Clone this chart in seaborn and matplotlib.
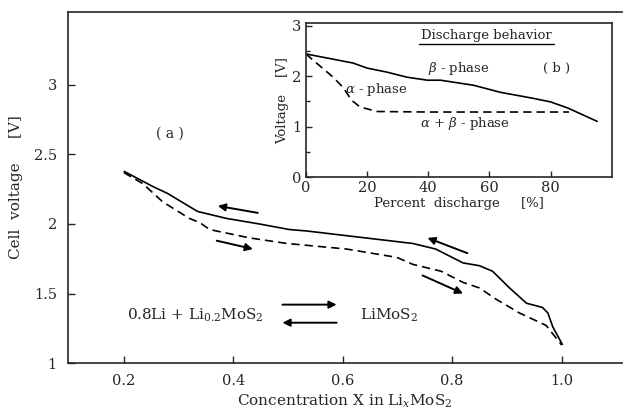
import numpy as np
import pandas as pd
import matplotlib
matplotlib.use("Agg")
import matplotlib.pyplot as plt
import seaborn as sns

# main panel (a): charge (solid) and discharge (dashed) curves
charge_x = [0.20, 0.253, 0.28, 0.335, 0.388, 0.448, 0.503, 0.534, 0.62, 0.728, 0.77,
            0.82, 0.85, 0.874, 0.905, 0.936, 0.965, 0.975, 0.984, 1.002]
charge_v = [2.38, 2.27, 2.22, 2.09, 2.04, 2.00, 1.96, 1.95, 1.91, 1.86, 1.82,
            1.72, 1.70, 1.66, 1.54, 1.43, 1.40, 1.36, 1.26, 1.13]
discharge_x = [0.20, 0.235, 0.271, 0.32, 0.339, 0.357, 0.43, 0.498, 0.607, 0.699,
               0.728, 0.78, 0.82, 0.85, 0.88, 0.923, 0.972, 1.0]
discharge_v = [2.37, 2.29, 2.16, 2.04, 2.01, 1.96, 1.90, 1.86, 1.82, 1.76,
               1.71, 1.66, 1.58, 1.54, 1.46, 1.36, 1.27, 1.13]

# inset panel (b): discharge behaviour
beta_pct = [0, 15.4, 20, 26.5, 33, 39.7, 44, 54.8, 63.6, 74.4, 80, 85.6, 95.4]
beta_v = [2.44, 2.26, 2.16, 2.08, 1.98, 1.92, 1.92, 1.82, 1.68, 1.56, 1.49, 1.37, 1.10]
alpha_pct = [0, 2.3, 8.9, 12.1, 15, 17.7, 23.3, 40, 60, 86]
alpha_v = [2.44, 2.32, 1.98, 1.78, 1.52, 1.39, 1.30, 1.29, 1.29, 1.29]

main_df = pd.concat([
    pd.DataFrame({"x": charge_x, "v": charge_v, "run": "charge"}),
    pd.DataFrame({"x": discharge_x, "v": discharge_v, "run": "discharge"}),
])
inset_df = pd.concat([
    pd.DataFrame({"p": beta_pct, "v": beta_v, "run": "beta"}),
    pd.DataFrame({"p": alpha_pct, "v": alpha_v, "run": "alpha"}),
])

sns.set_style("ticks")
plt.rcParams["font.family"] = ["DejaVu Serif"]
plt.rcParams["mathtext.fontset"] = "dejavuserif"
plt.rcParams["xtick.direction"] = "in"
plt.rcParams["ytick.direction"] = "in"

fig = plt.figure(figsize=(6.23, 4.13), dpi=100)
ax = fig.add_axes([0.109, 0.121, 0.889, 0.850])

sns.lineplot(data=main_df, x="x", y="v", hue="run", style="run",
             palette=["black", "black"], dashes=[(1, 0), (5, 3)],
             linewidth=1.2, sort=False, legend=False, ax=ax)
ax.set_xlim(0.098, 1.11)
ax.set_ylim(1.0, 3.525)
ax.set_xticks([0.2, 0.4, 0.6, 0.8, 1.0])
ax.set_xticklabels(["0.2", "0.4", "0.6", "0.8", "1.0"])
ax.set_yticks([1, 1.5, 2, 2.5, 3])
ax.set_yticklabels(["1", "1.5", "2", "2.5", "3"])
ax.tick_params(labelsize=10.5, length=5, width=1, pad=8)
ax.spines["right"].set_visible(False)
for s in ["left", "bottom", "top"]:
    ax.spines[s].set_linewidth(1.2)
ax.set_xlabel("Concentration X in Li$_x$MoS$_2$", fontsize=11, labelpad=3)
ax.set_ylabel("Cell  voltage     [V]", fontsize=11, labelpad=8)

ax.text(0.284, 2.65, "( a )", fontsize=10, ha="center", va="center")
ax.text(0.33, 1.34, "0.8Li + Li$_{0.2}$MoS$_2$", fontsize=11, ha="center", va="center")
ax.text(0.685, 1.34, "LiMoS$_2$", fontsize=11, ha="center", va="center")

arrows = [((0.445, 2.08), (0.372, 2.13)), ((0.37, 1.88), (0.436, 1.82)),
          ((0.828, 1.79), (0.755, 1.90)), ((0.746, 1.63), (0.82, 1.50)),
          ((0.49, 1.42), (0.589, 1.42)), ((0.589, 1.29), (0.49, 1.29))]
for start, end in arrows:
    ax.annotate("", xy=end, xytext=start,
                arrowprops=dict(arrowstyle="-|>", color="black", lw=1.4,
                                mutation_scale=11, shrinkA=0, shrinkB=0))

# inset
ins = fig.add_axes([0.491, 0.571, 0.491, 0.373])
sns.lineplot(data=inset_df, x="p", y="v", hue="run", style="run",
             palette=["black", "black"], dashes=[(1, 0), (5, 3)],
             linewidth=1.2, sort=False, legend=False, ax=ins)
ins.set_xlim(0, 100)
ins.set_ylim(0, 3.05)
ins.set_xticks([0, 20, 40, 60, 80])
ins.set_yticks([0, 1, 2, 3])
ins.set_yticks([0.5, 1.5, 2.5], minor=True)
ins.tick_params(labelsize=10.5, length=4, width=1, pad=3)
ins.tick_params(which="minor", length=3, width=1)
for s in ins.spines.values():
    s.set_linewidth(1.2)
ins.set_xlabel("Percent  discharge     [%]", fontsize=9.5, labelpad=1)
ins.set_ylabel("Voltage    [V]", fontsize=9.5, labelpad=2)
ins.text(59, 2.8, "Discharge behavior", fontsize=9.5, ha="center", va="center")
ins.plot([37, 81], [2.64, 2.64], color="black", lw=1)
ins.text(50, 2.16, "$\\beta$ - phase", fontsize=9.5, ha="center", va="center")
ins.text(23, 1.74, "$\\alpha$ - phase", fontsize=9.5, ha="center", va="center")
ins.text(52, 1.06, "$\\alpha$ + $\\beta$ - phase", fontsize=9.5, ha="center", va="center")
ins.text(82, 2.16, "( b )", fontsize=9.5, ha="center", va="center")

fig.savefig("out.png", dpi=100)
